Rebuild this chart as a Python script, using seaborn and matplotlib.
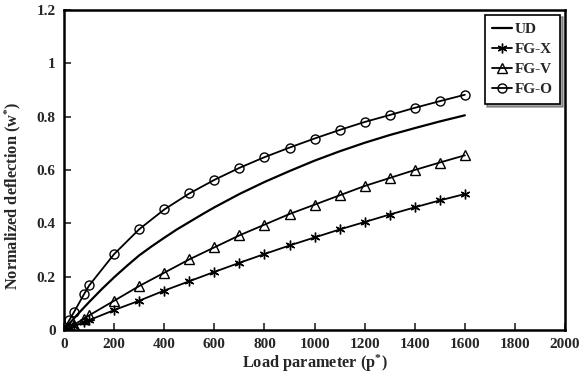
import matplotlib
matplotlib.use("Agg")
import matplotlib.pyplot as plt
import seaborn as sns
import pandas as pd

# ---- data ----
x_ud = [0, 25, 50, 100, 150, 200, 250, 300, 350, 400, 450, 500, 550, 600, 700, 800, 900, 1000, 1100, 1200, 1300, 1400, 1500, 1600]
y_ud = [0, 0.028, 0.055, 0.105, 0.153, 0.198, 0.240, 0.280, 0.314, 0.346, 0.377, 0.405, 0.433, 0.460, 0.510, 0.555, 0.596, 0.635, 0.670, 0.702, 0.731, 0.757, 0.782, 0.805]

x_fg = [0, 20, 40, 80, 100, 200, 300, 400, 500, 600, 700, 800, 900, 1000, 1100, 1200, 1300, 1400, 1500, 1600]
y_fgx = [0, 0.007, 0.014, 0.030, 0.037, 0.075, 0.110, 0.148, 0.183, 0.218, 0.252, 0.285, 0.317, 0.347, 0.377, 0.405, 0.433, 0.460, 0.486, 0.510]
y_fgv = [0, 0.010, 0.020, 0.043, 0.055, 0.110, 0.165, 0.215, 0.265, 0.310, 0.355, 0.395, 0.435, 0.470, 0.505, 0.540, 0.570, 0.600, 0.628, 0.655]
y_fgo = [0, 0.036, 0.068, 0.135, 0.167, 0.285, 0.378, 0.452, 0.512, 0.563, 0.608, 0.648, 0.684, 0.718, 0.750, 0.780, 0.806, 0.833, 0.858, 0.882]

labels = ["UD", "FG-X", "FG-V", "FG-O"]
x_ticks = [0, 200, 400, 600, 800, 1000, 1200, 1400, 1600, 1800, 2000]
y_ticks = [0, 0.2, 0.4, 0.6, 0.8, 1.0, 1.2]
y_ticklabels = ["0", "0.2", "0.4", "0.6", "0.8", "1", "1.2"]

sns.set_style("ticks")
plt.rcParams["font.family"] = ["Liberation Serif", "DejaVu Serif"]
plt.rcParams["font.weight"] = "bold"
plt.rcParams["mathtext.fontset"] = "custom"
plt.rcParams["mathtext.rm"] = "Liberation Serif:bold"
plt.rcParams["mathtext.bf"] = "Liberation Serif:bold"
plt.rcParams["mathtext.it"] = "Liberation Serif:bold"
plt.rcParams["mathtext.default"] = "bf"

fig = plt.figure(figsize=(5.88, 3.82), dpi=100)
ax = fig.add_axes([0.109, 0.136, 0.852, 0.838])

df_ud = pd.DataFrame({"x": x_ud, "y": y_ud})
df_fg = pd.DataFrame({"x": x_fg, "X": y_fgx, "V": y_fgv, "O": y_fgo})

sns.lineplot(data=df_ud, x="x", y="y", ax=ax, color="black", lw=1.6, label=labels[0])
asterisk = (6, 2, 0)
sns.lineplot(data=df_fg, x="x", y="X", ax=ax, color="black", lw=1.3, marker=asterisk,
             markersize=7, markeredgewidth=1.0, markeredgecolor="black", label=labels[1])
sns.lineplot(data=df_fg, x="x", y="V", ax=ax, color="black", lw=1.3, marker="^",
             markersize=7, markerfacecolor="none", markeredgewidth=1.0, markeredgecolor="black", label=labels[2])
sns.lineplot(data=df_fg, x="x", y="O", ax=ax, color="black", lw=1.3, marker="o",
             markersize=6.5, markerfacecolor="none", markeredgewidth=1.0, markeredgecolor="black", label=labels[3])

ax.set_xlim(0, 2000)
ax.set_ylim(0, 1.2)
ax.set_xticks(x_ticks)
ax.set_yticks(y_ticks)
ax.set_yticklabels(y_ticklabels)
ax.tick_params(direction="in", length=5, width=1.2, labelsize=11, pad=6)
for lab in ax.get_xticklabels() + ax.get_yticklabels():
    lab.set_fontweight("bold")
for s in ax.spines.values():
    s.set_visible(True)
    s.set_linewidth(1.8)
    s.set_color("black")

ax.set_xlabel("Load parameter (p$^{*}$)", fontsize=11.8, fontweight="bold", labelpad=1)
ax.set_ylabel("Normalized deflection (w$^{*}$)", fontsize=11.8, fontweight="bold", labelpad=6)
ax.yaxis.set_label_coords(-0.082, 0.42)

leg = ax.legend(loc="upper right", bbox_to_anchor=(0.996, 0.995), frameon=True, fancybox=False,
                shadow=True, edgecolor="black", fontsize=11, handlelength=1.3, handletextpad=0.15,
                borderpad=0.5, labelspacing=0.42, borderaxespad=0.2)
leg.get_frame().set_linewidth(1.2)
for t in leg.get_texts():
    t.set_fontweight("bold")

fig.savefig("out.png", dpi=100)
